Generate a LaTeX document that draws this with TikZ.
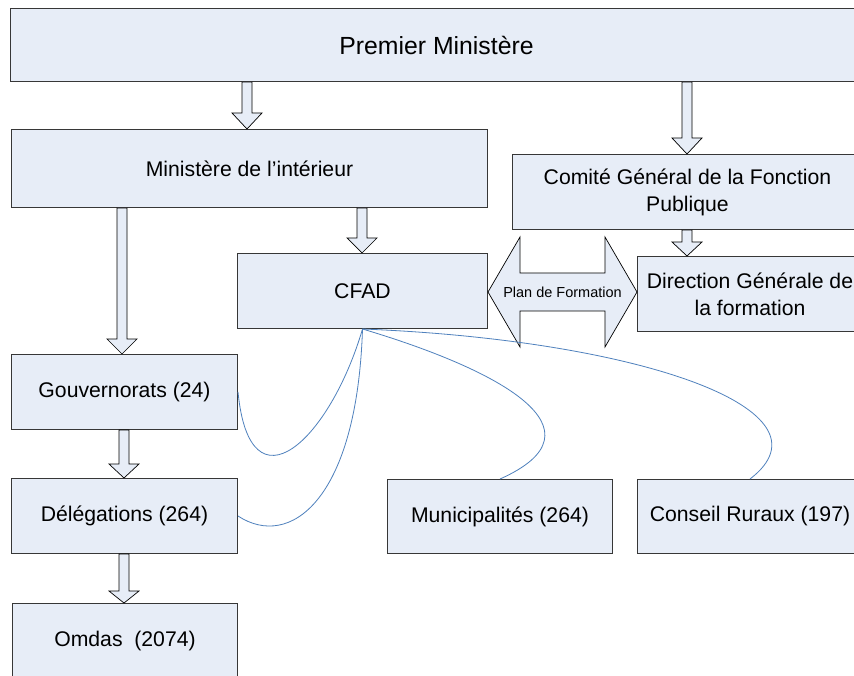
\documentclass[tikz,border=0pt]{standalone}
\usepackage{fontspec}
\setmainfont{Liberation Sans}
\usetikzlibrary{calc}
\definecolor{boxfill}{RGB}{231,237,247}
\definecolor{linkblue}{RGB}{79,129,189}
\definecolor{boxline}{RGB}{55,55,55}
% vertical block arrow from #2 down to #3, head length #1
\newcommand\blockarr[3][15pt]{%
  \draw[barr] let \p1=(#2), \p2=(#3) in
    (\x1-5pt,\y1) -- (\x1+5pt,\y1) -- (\x1+5pt,\y2+#1) -- (\x1+15pt,\y2+#1)
    -- (\x1,\y2) -- (\x1-15pt,\y2+#1) -- (\x1-5pt,\y2+#1) -- cycle;}
\begin{document}
\begin{tikzpicture}[x=1pt,y=-1pt,
  box/.style={draw=boxline, line width=1pt, fill=boxfill, rectangle,
    anchor=north west, inner sep=0pt, align=center,
    font=\fontsize{21.2}{27}\selectfont},
  barr/.style={draw=black, line width=0.7pt, fill=boxfill, line join=miter},
  link/.style={draw=linkblue, line width=0.8pt}]
\clip (0,0) rectangle (854,676);
\fill[white] (0,0) rectangle (854,676);

% boxes
\node[box, minimum width=852pt, minimum height=73pt,
  font=\fontsize{24.8}{29}\selectfont] (pm) at (10,8) {Premier Ministère};
\node[box, minimum width=476pt, minimum height=78pt] (mi) at (11,129) {Ministère de l’intérieur};
\node[box, minimum width=350pt, minimum height=75pt] (comite) at (512,154) {Comité Général de la Fonction\\Publique};
\node[box, minimum width=250pt, minimum height=75pt] (cfad) at (237,253) {CFAD};
\node[box, minimum width=225pt, minimum height=75pt] (dg) at (637,256) {Direction Générale de\\la formation};
\node[box, minimum width=226pt, minimum height=75pt] (gouv) at (11,354) {Gouvernorats (24)};
\node[box, minimum width=226pt, minimum height=75pt] (del) at (11,478) {Délégations (264)};
\node[box, minimum width=225pt, minimum height=75pt] (omdas) at (12,603) {Omdas\ \ (2074)};
\node[box, minimum width=225pt, minimum height=74pt] (muni) at (387,479) {Municipalités (264)};
\node[box, minimum width=225pt, minimum height=74pt] (cr) at (637,479) {Conseil Ruraux (197)};

% x positions of the block arrows
\coordinate (xa) at (247,0);
\coordinate (xb) at (687,0);
\coordinate (xc) at (122,0);
\coordinate (xd) at (362,0);
\coordinate (xe) at (124,0);

\blockarr[16pt]{pm.south -| xa}{mi.north -| xa}
\blockarr[16pt]{pm.south -| xb}{comite.north -| xb}
\blockarr[15pt]{mi.south -| xc}{gouv.north -| xc}
\blockarr[15pt]{mi.south -| xd}{cfad.north -| xd}
\blockarr[14pt]{comite.south -| xb}{dg.north -| xb}
\blockarr[14pt]{gouv.south -| xe}{del.north -| xe}
\blockarr[12pt]{del.south -| xe}{omdas.north -| xe}

% double arrow: Plan de Formation
\draw[barr] let \p1=(cfad.east), \p2=(dg.west) in
  (\x1,\y1-1pt) -- (\x1+32pt,\y1+54pt) -- (\x1+32pt,\y1+18pt)
  -- (\x2-32pt,\y1+18pt) -- (\x2-32pt,\y1+54pt) -- (\x2,\y1-1pt)
  -- (\x2-32pt,\y1-56pt) -- (\x2-32pt,\y1-20pt) -- (\x1+32pt,\y1-20pt)
  -- (\x1+32pt,\y1-56pt) -- cycle;
\node[font=\fontsize{14.5}{17}\selectfont, inner sep=0pt] (plan)
  at ($(cfad.east)!0.5!(dg.west)$) {Plan de Formation};

% links from CFAD
\draw[link] (cfad.south) .. controls (330,440) and (250,515) .. (gouv.east);
\draw[link] (cfad.south) .. controls (357,500) and (290,550) .. (del.east);
\draw[link] (cfad.south) .. controls (500,370) and (610,430) .. (muni.north);
\draw[link] (cfad.south) .. controls (640,340) and (840,410) .. (cr.north);
\end{tikzpicture}
\end{document}
